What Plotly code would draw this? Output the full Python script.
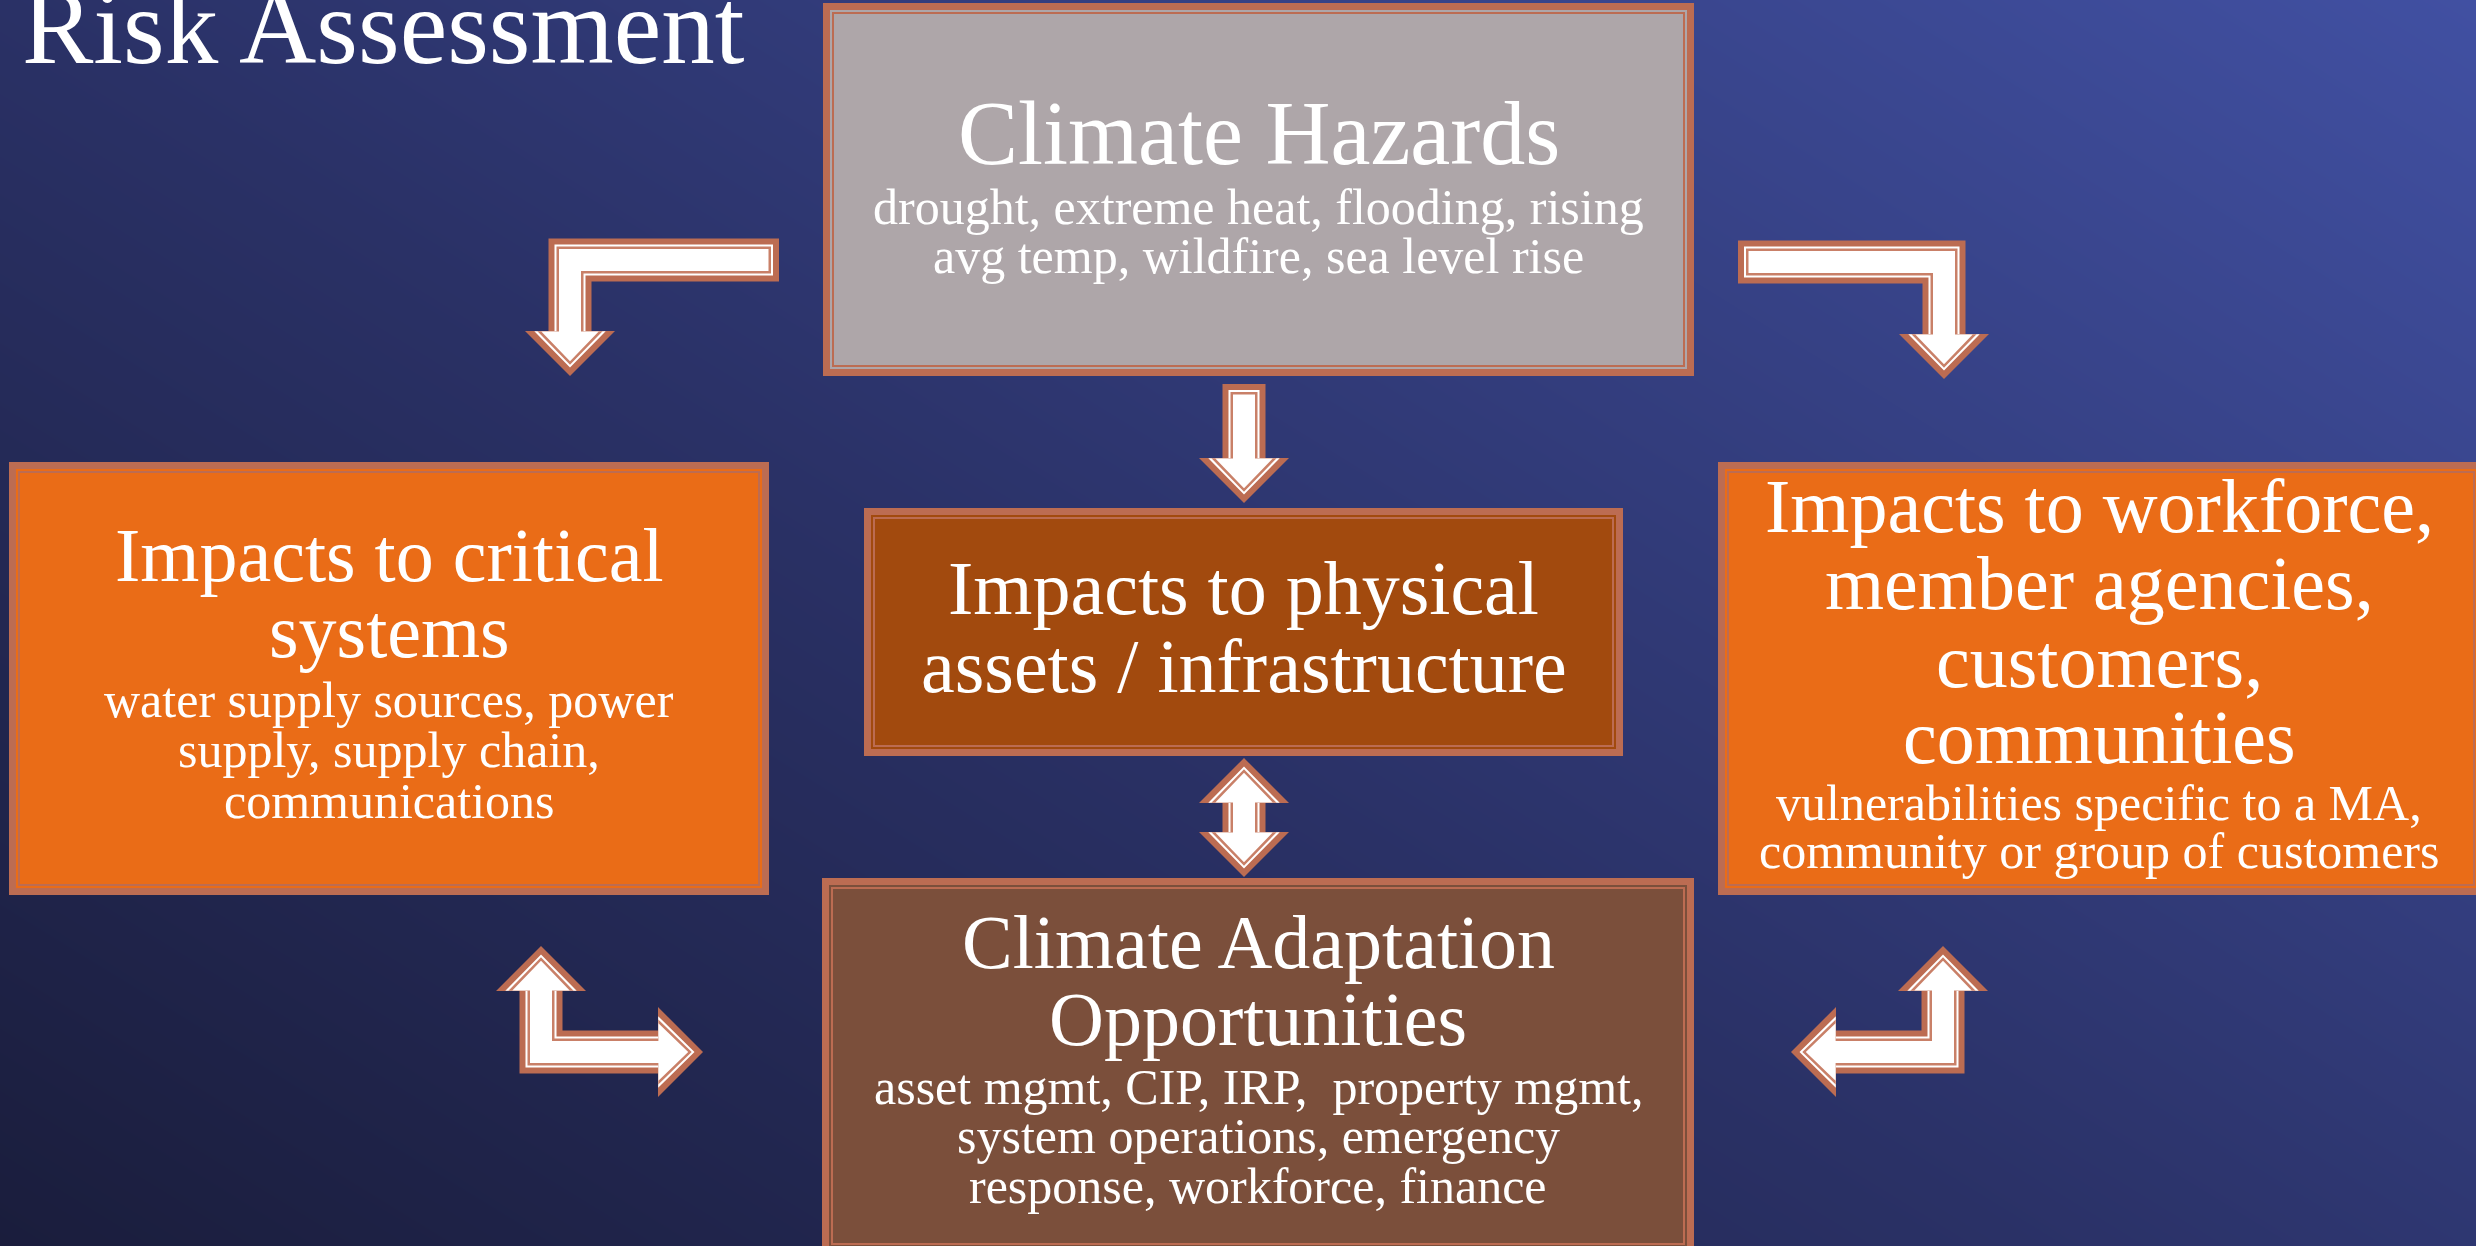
import numpy as np
import plotly.graph_objects as go

W, H = 2476, 1246

# ---------------- data (text content) ----------------
page_title = "Risk Assessment"
box_names = ["hazards", "critical", "physical", "workforce", "adaptation"]
box_titles = [
    ["Climate Hazards"],
    ["Impacts to critical", "systems"],
    ["Impacts to physical", "assets / infrastructure"],
    ["Impacts to workforce,", "member agencies,", "customers,", "communities"],
    ["Climate Adaptation", "Opportunities"],
]
box_details = [
    ["drought, extreme heat, flooding, rising", "avg temp, wildfire, sea level rise"],
    ["water supply sources, power", "supply, supply chain,", "communications"],
    [],
    ["vulnerabilities specific to a MA,", "community or group of customers"],
    ["asset mgmt, CIP, IRP,  property mgmt,", "system operations, emergency", "response, workforce, finance"],
]

# ---------------- layout / style ----------------
box_rects = [  # x0, x1, y0, y1 (pixels, y down)
    (823, 1694, 3, 376),
    (9, 769, 462, 895),
    (864, 1623, 508, 756),
    (1718, 2484, 462, 895),
    (822, 1694, 878, 1254),
]
box_fill = ["#AEA6A9", "#EA6C17", "#A24A0E", "#EA6C17", "#7B4F3B"]
title_y = [[133], [555, 631], [588, 666], [506, 583, 661, 737], [942, 1019]]
detail_y = [[207, 256], [700, 750, 801], [], [803, 851], [1087, 1136, 1186]]
title_size = [90, 76, 76, 76, 76]
detail_size = 50
BORDER = "#BC6C52"
THIN = "#C98068"
FONT = "Liberation Serif"

# arrows: centerline polylines (tip points included), heads at start/end
arrows = [
    ([(779, 260), (570, 260), (570, 376)], False, True),
    ([(1738, 262), (1944, 262), (1944, 379)], False, True),
    ([(1244, 384), (1244, 503)], False, True),
    ([(1244, 758), (1244, 877)], True, True),
    ([(541, 946), (541, 1052), (703, 1052)], True, True),
    ([(1943, 946), (1943, 1052), (1791, 1052)], True, True),
]
HW, HH, HL = 21.5, 45, 45


def arrow_poly(pts, hw, hh, hl, hs, he, s):
    p = [np.array(q, dtype=float) for q in pts]
    d = [(p[i + 1] - p[i]) / np.linalg.norm(p[i + 1] - p[i]) for i in range(len(p) - 1)]
    n = [np.array([-v[1], v[0]]) for v in d]
    hw2, hh2, hl2 = hw - s, hh - 1.55 * s, hl - 1.45 * s
    p[0] = p[0] + d[0] * (1.41 * s if hs else s)
    p[-1] = p[-1] - d[-1] * (1.41 * s if he else s)
    left, right = [], []
    tip0, tipn = [], []
    if hs:
        b = p[0] + d[0] * hl2
        left += [b + n[0] * hh2, b + n[0] * hw2]
        right += [b - n[0] * hh2, b - n[0] * hw2]
        tip0 = [p[0]]
    else:
        left += [p[0] + n[0] * hw2]
        right += [p[0] - n[0] * hw2]
    for j in range(1, len(p) - 1):
        off = hw2 * (n[j - 1] + n[j])
        left.append(p[j] + off)
        right.append(p[j] - off)
    if he:
        b = p[-1] - d[-1] * hl2
        left += [b + n[-1] * hw2, b + n[-1] * hh2]
        right += [b - n[-1] * hw2, b - n[-1] * hh2]
        tipn = [p[-1]]
    else:
        left += [p[-1] + n[-1] * hw2]
        right += [p[-1] - n[-1] * hw2]
    poly = tip0 + left + tipn + right[::-1]
    return "M " + " L ".join(f"{q[0]:.1f},{q[1]:.1f}" for q in poly) + " Z"


fig = go.Figure()

# background gradient
gx = np.linspace(0, W, 5)
gy = np.linspace(0, H, 5)
GX, GY = np.meshgrid(gx, gy)
GZ = 0.55 * (GX / W) + 0.45 * (1 - GY / H)
fig.add_trace(go.Heatmap(
    x=gx, y=gy, z=GZ, zsmooth="best", showscale=False, hoverinfo="skip",
    colorscale=[[0, "#1A1D3C"], [0.45, "#2A3166"], [1, "#4150A2"]], zmin=0, zmax=1,
))

shapes = []
# boxes
for (x0, x1, y0, y1), fc in zip(box_rects, box_fill):
    shapes.append(dict(type="rect", x0=x0, x1=x1, y0=y0, y1=y1, fillcolor=BORDER, line=dict(width=0)))
    shapes.append(dict(type="rect", x0=x0 + 7, x1=x1 - 7, y0=y0 + 7, y1=y1 - 7, fillcolor=fc, line=dict(width=0)))
    shapes.append(dict(type="rect", x0=x0 + 9, x1=x1 - 9, y0=y0 + 9, y1=y1 - 9, fillcolor=BORDER, line=dict(width=0)))
    shapes.append(dict(type="rect", x0=x0 + 11, x1=x1 - 11, y0=y0 + 11, y1=y1 - 11, fillcolor=fc, line=dict(width=0)))

# arrows
for pts, hs, he in arrows:
    for s, col in [(0, BORDER), (6, "white"), (8, THIN), (10.5, "white")]:
        shapes.append(dict(type="path", path=arrow_poly(pts, HW, HH, HL, hs, he, s),
                           fillcolor=col, line=dict(width=0)))

for sh in shapes:
    sh.update(xref="x", yref="y", layer="above")

annotations = []
annotations.append(dict(text=page_title, x=20, y=27, xanchor="left", yanchor="middle",
                        font=dict(family=FONT, size=107, color="white"), showarrow=False))
for i, rect in enumerate(box_rects):
    cx = (rect[0] + min(rect[1], W + 4)) / 2
    for line, yy in zip(box_titles[i], title_y[i]):
        annotations.append(dict(text=line, x=cx, y=yy, xanchor="center", yanchor="middle",
                                font=dict(family=FONT, size=title_size[i], color="white"), showarrow=False))
    for line, yy in zip(box_details[i], detail_y[i]):
        annotations.append(dict(text=line, x=cx, y=yy, xanchor="center", yanchor="middle",
                                font=dict(family=FONT, size=detail_size, color="white"), showarrow=False))
for a in annotations:
    a.update(xref="x", yref="y")

fig.update_layout(
    width=W, height=H, margin=dict(l=0, r=0, t=0, b=0),
    paper_bgcolor="#252B58", plot_bgcolor="#252B58",
    xaxis=dict(range=[0, W], visible=False, fixedrange=True),
    yaxis=dict(range=[H, 0], visible=False, fixedrange=True),
    shapes=shapes, annotations=annotations, showlegend=False,
)

fig.write_html("out.html", config={"displayModeBar": False},
               post_script="document.body.style.margin='0';document.body.style.overflow='hidden';")
